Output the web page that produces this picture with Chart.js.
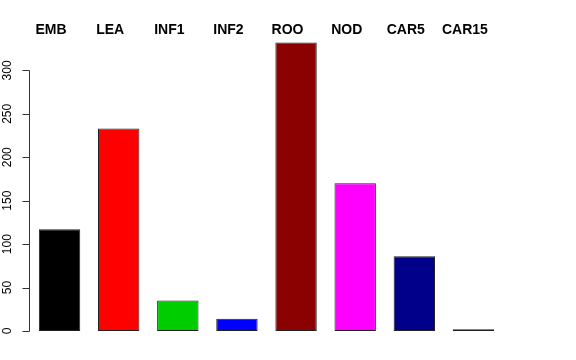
<!DOCTYPE html>
<html>
<head>
<meta charset="utf-8">
<script src="https://cdn.jsdelivr.net/npm/chart.js@4"></script>
<style>
  html, body { margin: 0; padding: 0; background: #fff; }
</style>
</head>
<body>
<canvas id="chart" width="576" height="360"></canvas>
<script>
const categories = ['EMB', 'LEA', 'INF1', 'INF2', 'ROO', 'NOD', 'CAR5', 'CAR15'];
const counts = [117, 233, 35, 14, 332, 170, 86, 2];
const barColors = ['#000000', '#ff0000', '#00cd00', '#0000ff', '#8b0000', '#ff00ff', '#00008b', '#006400'];
const yTicks = [0, 50, 100, 150, 200, 250, 300];

// R style axes: left line only over the tick range with rotated labels,
// category names written above the bars
const rAxis = {
  id: 'rAxis',
  afterDraw(chart) {
    const ctx = chart.ctx;
    const x = chart.scales.x;
    const y = chart.scales.y;
    const x0 = chart.chartArea.left - 0.5;
    ctx.save();
    ctx.strokeStyle = '#333';
    ctx.lineWidth = 1;
    ctx.beginPath();
    ctx.moveTo(x0, Math.round(y.getPixelForValue(yTicks[0])) + 0.5);
    ctx.lineTo(x0, Math.round(y.getPixelForValue(yTicks[yTicks.length - 1])) + 0.5);
    yTicks.forEach(v => {
      const py = Math.round(y.getPixelForValue(v)) + 0.5;
      ctx.moveTo(x0, py);
      ctx.lineTo(x0 - 7, py);
    });
    ctx.stroke();
    ctx.fillStyle = '#000';
    ctx.font = '12px "Liberation Sans", Arial, sans-serif';
    ctx.textAlign = 'center';
    ctx.textBaseline = 'alphabetic';
    yTicks.forEach(v => {
      ctx.save();
      ctx.translate(11, y.getPixelForValue(v));
      ctx.rotate(-Math.PI / 2);
      ctx.fillText(String(v), 0, 0);
      ctx.restore();
    });
    ctx.font = 'bold 14px "Liberation Sans", Arial, sans-serif';
    categories.forEach((c, i) => {
      ctx.fillText(c, x.getPixelForValue(i) - 8.5, 34);
    });
    ctx.restore();
  }
};

new Chart(document.getElementById('chart'), {
  type: 'bar',
  data: {
    labels: categories,
    datasets: [{
      data: counts,
      backgroundColor: barColors,
      borderColor: '#222',
      borderWidth: 1,
      borderSkipped: false,
      barPercentage: 0.7,
      categoryPercentage: 1.0
    }]
  },
  options: {
    responsive: false,
    animation: false,
    layout: { padding: { left: 30, right: 73, top: 40, bottom: 29 } },
    plugins: { legend: { display: false }, tooltip: { enabled: false } },
    scales: {
      x: { display: false },
      y: {
        display: false,
        min: 0,
        max: 335
      }
    }
  },
  plugins: [rAxis]
});
</script>
</body>
</html>
